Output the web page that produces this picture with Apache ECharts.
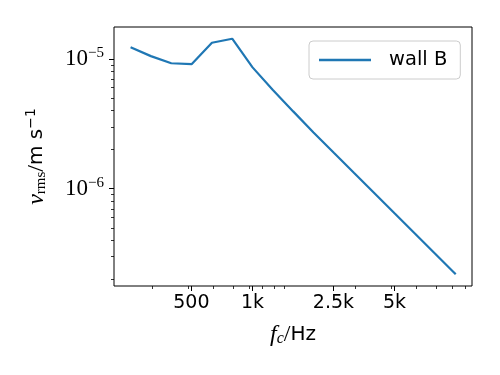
<!DOCTYPE html>
<html>
<head>
<meta charset="utf-8">
<script src="https://cdn.jsdelivr.net/npm/echarts@6/dist/echarts.min.js"></script>
<style>html,body{margin:0;padding:0;background:#fff}#c{width:500px;height:375px}</style>
</head>
<body>
<div id="c"></div>
<script>
// --- data ---
const freqs = [251, 316, 398, 501, 631, 794, 1000, 1259, 1585, 1995, 2512, 3162, 3981, 5012, 6310, 7943, 10000];
const wallB = [1.23e-5, 1.05e-5, 9.25e-6, 9.1e-6, 1.33e-5, 1.43e-5, 8.6e-6, 5.75e-6, 3.94e-6, 2.71e-6, 1.89e-6, 1.32e-6, 9.23e-7, 6.44e-7, 4.50e-7, 3.14e-7, 2.19e-7];
const xTicks = [500, 1000, 2500, 5000];
const xTickLabels = ['500', '1k', '2.5k', '5k'];
const xMinorTicks = [320, 480, 640, 800, 960, 1120, 1280, 1440, 3200, 4800, 6400, 8000, 9600, 11200];
const yTicks = [1e-6, 1e-5];
const yTickExps = ['\u22126', '\u22125'];
const yMinorTicks = [2e-7, 3e-7, 4e-7, 5e-7, 6e-7, 7e-7, 8e-7, 9e-7, 2e-6, 3e-6, 4e-6, 5e-6, 6e-6, 7e-6, 8e-6, 9e-6];
const seriesName = 'wall B';

const SANS = '"DejaVu Sans", sans-serif';
const SERIF = '"Liberation Serif", "DejaVu Serif", serif';
const xMin = 208, xMax = 12023, yMin = 1.78e-7, yMax = 1.76e-5;

function idxOf(arr, v) { return arr.findIndex(t => Math.abs(t - v) / t < 1e-6); }

const chart = echarts.init(document.getElementById('c'), null, {renderer: 'canvas'});
chart.setOption({
  animation: false,
  backgroundColor: '#fff',
  grid: {left: 114, right: 28, top: 27, bottom: 89, show: true, borderColor: '#000', borderWidth: 1, backgroundColor: 'transparent'},
  legend: {
    data: [seriesName], left: 309, top: 41,
    icon: 'rect', itemWidth: 52, itemHeight: 2.5,
    padding: [9, 13, 9, 10],
    backgroundColor: 'rgba(255,255,255,0.8)', borderColor: '#cccccc', borderWidth: 1, borderRadius: 4,
    textStyle: {fontFamily: SANS, fontSize: 19.5, color: '#000', padding: [0, 0, 0, 13]}
  },
  xAxis: [
    {
      type: 'log', logBase: 10, min: xMin, max: xMax, position: 'bottom',
      axisLine: {show: false}, splitLine: {show: false},
      axisTick: {show: true, customValues: xTicks, length: 5, lineStyle: {color: '#000', width: 1}},
      axisLabel: {customValues: xTicks, color: '#000', fontFamily: SANS, fontSize: 19, margin: 8,
        formatter: v => { const i = idxOf(xTicks, v); return i >= 0 ? xTickLabels[i] : ''; }},
      name: '{i|f}{s|c}{sl|/}{n|Hz}', nameLocation: 'middle', nameGap: 37,
      nameTextStyle: {rich: {
        i: {fontFamily: SERIF, fontStyle: 'italic', fontSize: 24, color: '#000'},
        s: {fontFamily: SERIF, fontStyle: 'italic', fontSize: 16, color: '#000', padding: [8, 0, 0, 0]},
        sl: {fontFamily: SERIF, fontSize: 24, color: '#000'},
        n: {fontFamily: SANS, fontSize: 20, color: '#000'}
      }}
    },
    {
      type: 'log', logBase: 10, min: xMin, max: xMax, position: 'bottom',
      axisLine: {show: false}, splitLine: {show: false},
      axisTick: {show: true, customValues: xMinorTicks, length: 3, lineStyle: {color: '#000', width: 0.8}},
      axisLabel: {show: false}
    }
  ],
  yAxis: [
    {
      type: 'log', logBase: 10, min: yMin, max: yMax, position: 'left',
      axisLine: {show: false}, splitLine: {show: false},
      axisTick: {show: true, customValues: yTicks, length: 5, lineStyle: {color: '#000', width: 1}},
      axisLabel: {customValues: yTicks, margin: 10,
        formatter: v => { const i = idxOf(yTicks, v); return i >= 0 ? '{b|10}{s|' + yTickExps[i] + '}' : ''; },
        rich: {
          b: {fontFamily: SERIF, fontSize: 23, color: '#000'},
          s: {fontFamily: SERIF, fontSize: 15, color: '#000', padding: [0, 0, 12, 0]}
        }},
      name: '{i|v}{s|rms}{sl|/}{n|m s}{sup|\u22121}', nameLocation: 'middle', nameGap: 64, nameRotate: 90,
      nameTextStyle: {rich: {
        i: {fontFamily: SERIF, fontStyle: 'italic', fontSize: 24, color: '#000'},
        s: {fontFamily: SERIF, fontSize: 15, color: '#000', padding: [8, 0, 0, 0]},
        sl: {fontFamily: SERIF, fontSize: 24, color: '#000'},
        n: {fontFamily: SANS, fontSize: 20, color: '#000'},
        sup: {fontFamily: SANS, fontSize: 14, color: '#000', padding: [0, 0, 12, 0]}
      }}
    },
    {
      type: 'log', logBase: 10, min: yMin, max: yMax, position: 'left',
      axisLine: {show: false}, splitLine: {show: false},
      axisTick: {show: true, customValues: yMinorTicks, length: 3, lineStyle: {color: '#000', width: 0.8}},
      axisLabel: {show: false}
    }
  ],
  series: [{
    name: seriesName, type: 'line', xAxisIndex: 0, yAxisIndex: 0,
    symbol: 'none', smooth: false,
    lineStyle: {color: '#1f77b4', width: 2.2},
    itemStyle: {color: '#1f77b4'},
    data: freqs.map((f, i) => [f, wallB[i]])
  }]
});
</script>
</body>
</html>
